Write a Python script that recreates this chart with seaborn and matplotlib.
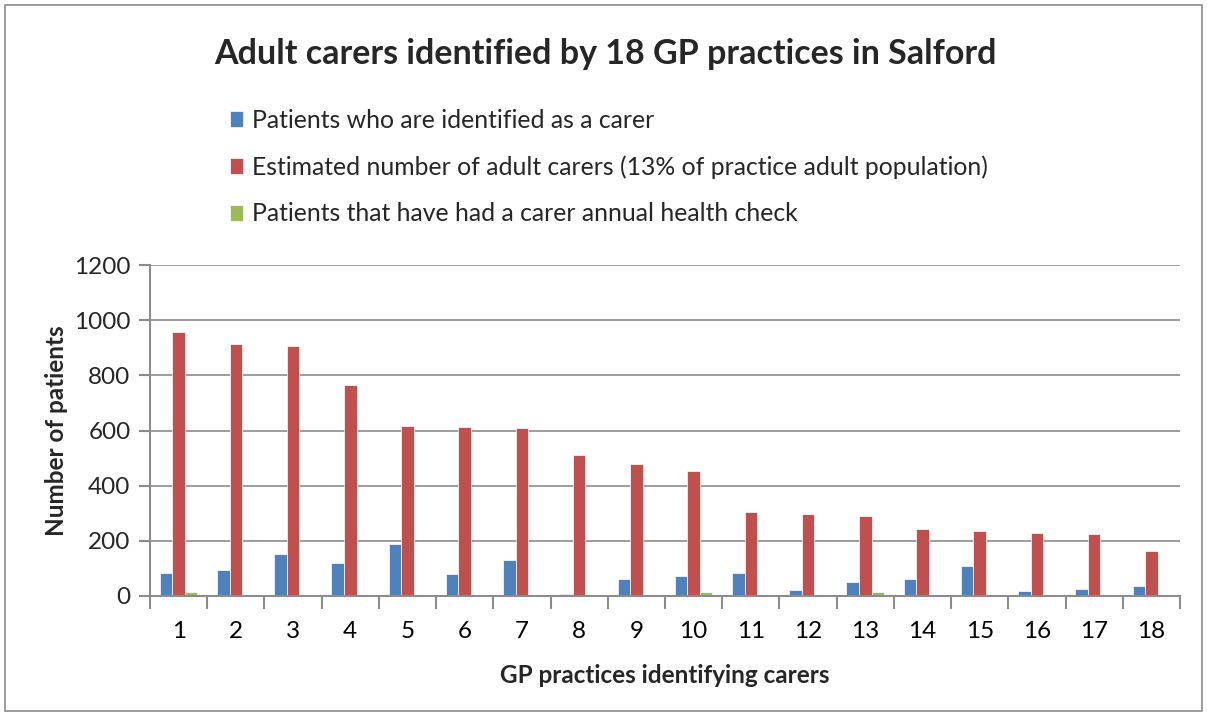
import matplotlib
matplotlib.use("Agg")
import matplotlib.pyplot as plt
import seaborn as sns
import pandas as pd
from matplotlib.patches import Rectangle

practices = [str(i) for i in range(1, 19)]
identified = [84, 95, 152, 119, 187, 80, 130, 8, 61, 72, 84, 20, 51, 62, 110, 17, 25, 38]
estimated = [958, 913, 905, 765, 617, 612, 608, 510, 480, 453, 304, 298, 290, 243, 237, 230, 225, 163]
health_check = [14, 0, 0, 0, 0, 0, 0, 0, 0, 14, 0, 0, 14, 0, 0, 0, 0, 0]

series_names = [
    "Patients who are identified as a carer",
    "Estimated number of adult carers (13% of practice adult population)",
    "Patients that have had a carer annual health check",
]
colors = ["#4F81BD", "#C0504D", "#9BBB59"]

rows = []
for vals, name in zip([identified, estimated, health_check], series_names):
    for p, v in zip(practices, vals):
        rows.append({"practice": p, "value": v, "series": name})
df = pd.DataFrame(rows)

sns.set_theme(style="white")
plt.rcParams["font.family"] = ["Lato", "DejaVu Sans"]

fig = plt.figure(figsize=(12.07, 7.14), dpi=100)
W, H = 1207, 714
ax = fig.add_axes([150 / W, 1 - 596 / H, 1030 / W, 331 / H])

sns.barplot(data=df, x="practice", y="value", hue="series", palette=colors,
            order=practices, hue_order=series_names, width=0.66, ax=ax,
            saturation=1, edgecolor="white", linewidth=0.5, legend=True)

ax.set_ylim(0, 1200)
ax.set_xlim(-0.5, 17.5)
ax.set_yticks(range(0, 1201, 200))
ax.yaxis.grid(True, color="#8c8c8c", linewidth=1.2)
ax.set_axisbelow(True)
for s in ["top", "right"]:
    ax.spines[s].set_visible(False)
for s in ["left", "bottom"]:
    ax.spines[s].set_color("#8c8c8c")
    ax.spines[s].set_linewidth(1.5)

# Excel-style ticks between categories
ax.set_xticks(range(18))
ax.set_xticklabels(practices)
ax.set_xticks([i - 0.5 for i in range(19)], minor=True)
ax.tick_params(axis="x", which="major", length=0, labelsize=17.5, pad=18, colors="black")
ax.tick_params(axis="x", which="minor", length=9, width=1.5, color="#8c8c8c", direction="out", bottom=True)
ax.tick_params(axis="y", which="major", length=8, width=1.5, color="#8c8c8c", labelsize=17.5,
               direction="out", left=True, pad=6)

ax.set_xlabel("GP practices identifying carers", fontsize=17.5, fontweight="bold", labelpad=16)
ax.set_ylabel("Number of patients", fontsize=17.5, fontweight="bold", labelpad=4)

handles, labels = ax.get_legend_handles_labels()
ax.legend_.remove()
fig.legend(handles, labels, loc="upper left", bbox_to_anchor=(220 / W, 1 - 99 / H),
           frameon=False, fontsize=17.8, handlelength=0.55, handleheight=0.6,
           handletextpad=0.35, labelspacing=0.95, borderaxespad=0)

fig.text(605 / W, 1 - 54 / H, "Adult carers identified by 18 GP practices in Salford",
         ha="center", va="center", fontsize=24.5, fontweight="bold")

fig.patches.append(Rectangle((5 / W, 3 / H), 1197 / W, 706 / H, transform=fig.transFigure,
                             fill=False, edgecolor="#8c8c8c", linewidth=1.2))

fig.savefig("out.png", dpi=100)
